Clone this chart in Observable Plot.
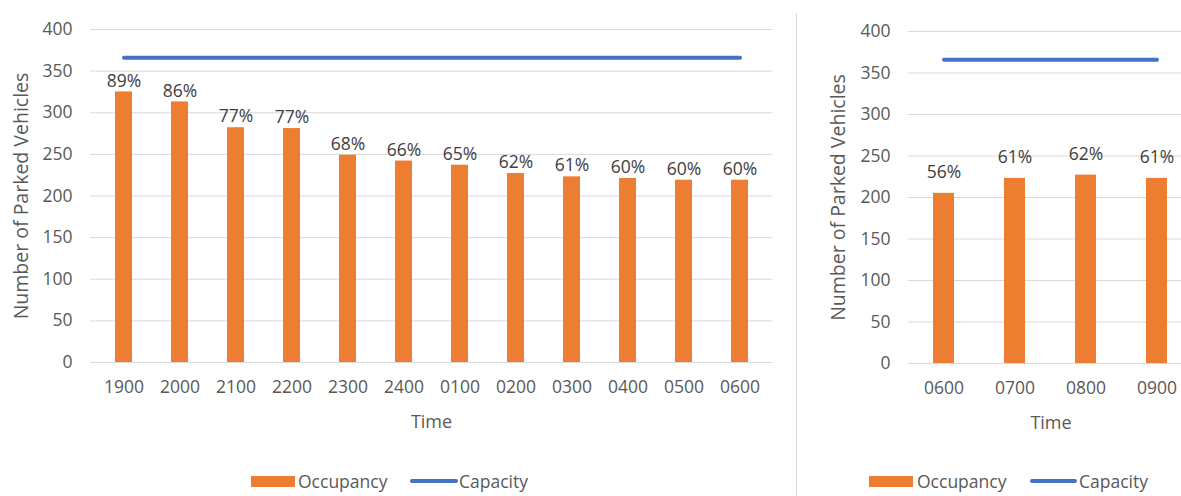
<!DOCTYPE html>
<html>
<head>
<meta charset="utf-8">
<script src="https://cdn.jsdelivr.net/npm/d3@7"></script>
<script src="https://cdn.jsdelivr.net/npm/@observablehq/plot@0.6"></script>
<style>
  html, body { margin: 0; padding: 0; background: #fff; overflow: hidden; }
  #wrap { position: relative; width: 1181px; height: 496px; overflow: hidden; font-family: "Open Sans", sans-serif; color: #595959; }
  .chart { position: absolute; top: 0; }
  .sep { position: absolute; left: 796px; top: 13px; bottom: 0; width: 1px; background: #d9d9d9; }
  .leg { position: absolute; font-size: 17.5px; color: #595959; line-height: 20px; white-space: nowrap; }
  .sw { position: absolute; }
</style>
</head>
<body>
<div id="wrap">
  <div class="chart" id="left" style="left:0; width:796px;"></div>
  <div class="sep"></div>
  <div class="chart" id="right" style="left:796px; width:397px;"></div>
</div>
<script>
const nightTimes = ["1900","2000","2100","2200","2300","2400","0100","0200","0300","0400","0500","0600"];
const nightOccupancy = [325, 313, 282, 281, 249, 242, 237, 227, 223, 221, 219, 219];
const nightPercent = ["89%","86%","77%","77%","68%","66%","65%","62%","61%","60%","60%","60%"];
const nightCapacity = [366, 366, 366, 366, 366, 366, 366, 366, 366, 366, 366, 366];

const morningTimes = ["0600","0700","0800","0900"];
const morningOccupancy = [205, 223, 227, 223];
const morningPercent = ["56%","61%","62%","61%"];
const morningCapacity = [366, 366, 366, 366];

const yTicks = [0, 50, 100, 150, 200, 250, 300, 350, 400];
const yLabel = "Number of Parked Vehicles";
const xLabel = "Time";
const seriesNames = ["Occupancy", "Capacity"];

const ORANGE = "#ED7D31", BLUE = "#4472C4", GRID = "#d9d9d9", TXT = "#595959";

function makeChart({times, occ, pct, cap, width, mL, mR, mT, mB, ylDx, pctDy}) {
  const data = times.map((t, i) => ({time: t, occ: occ[i], pct: pct[i], cap: cap[i]}));
  return Plot.plot({
    width, height: 440,
    marginLeft: mL, marginRight: mR, marginTop: mT, marginBottom: mB,
    style: {fontFamily: "Open Sans, sans-serif", fontSize: "17.5px", color: TXT, background: "transparent", overflow: "visible"},
    x: {type: "band", domain: times, padding: 0.7, paddingOuter: 0.35, label: null},
    y: {domain: [0, 400], label: null},
    marks: [
      Plot.gridY(yTicks, {stroke: GRID, strokeOpacity: 1, strokeWidth: 1}),
      Plot.axisY({ticks: yTicks, tickSize: 0, tickPadding: 18, label: null}),
      Plot.axisX({tickSize: 0, tickPadding: 18, label: null}),
      Plot.barY(data, {x: "time", y: "occ", fill: ORANGE}),
      Plot.lineY(data, {x: "time", y: "cap", stroke: BLUE, strokeWidth: 4, strokeLinecap: "round"}),
      Plot.text(data, {x: "time", y: "occ", text: "pct", dy: pctDy, fill: "#404040", fontSize: 17.5}),
      Plot.text([yLabel], {frameAnchor: "left", textAnchor: "middle", rotate: -90, dx: ylDx, fill: TXT, fontSize: 19.5}),
      Plot.text([xLabel], {frameAnchor: "bottom", textAnchor: "middle", dy: 65, fill: TXT, fontSize: 18})
    ]
  });
}

function legend(container, rectX, textX, lineX1, lineX2, text2X) {
  const el = document.getElementById(container);
  el.insertAdjacentHTML("beforeend",
    `<div class="sw" style="left:${rectX}px; top:476px; width:44px; height:11px; background:${ORANGE}"></div>
     <div class="leg" style="left:${textX}px; top:471px">${seriesNames[0]}</div>
     <div class="sw" style="left:${lineX1}px; top:479px; width:${lineX2 - lineX1}px; height:4px; border-radius:2px; background:${BLUE}"></div>
     <div class="leg" style="left:${text2X}px; top:471px">${seriesNames[1]}</div>`);
}

document.getElementById("left").append(makeChart({
  times: nightTimes, occ: nightOccupancy, pct: nightPercent, cap: nightCapacity,
  width: 796, mL: 90, mR: 24, mT: 29, mB: 78, ylDx: -69, pctDy: -11
}));
document.getElementById("right").append(makeChart({
  times: morningTimes, occ: morningOccupancy, pct: morningPercent, cap: morningCapacity,
  width: 397, mL: 112, mR: 0, mT: 31, mB: 77, ylDx: -70, pctDy: -21
}));
legend("left", 251, 298, 410, 458, 459);
legend("right", 73, 121, 234, 281, 283);
</script>
</body>
</html>
